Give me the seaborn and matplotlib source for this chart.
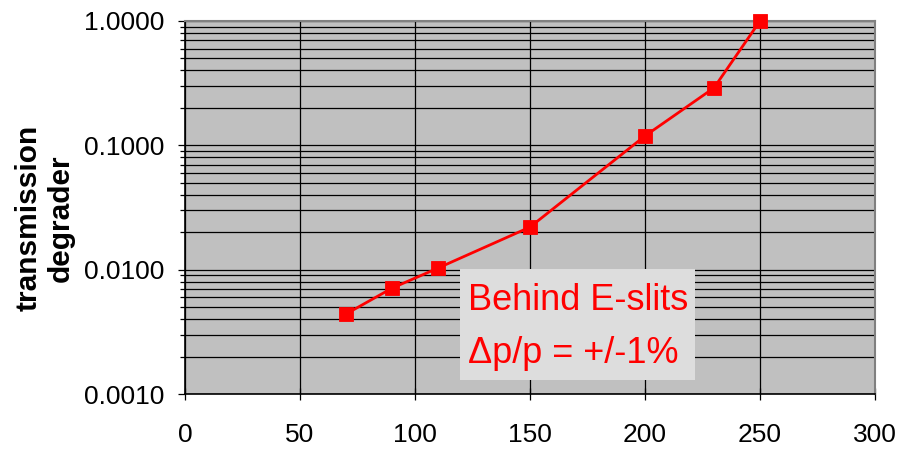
import matplotlib
matplotlib.use("Agg")
import matplotlib.pyplot as plt
import matplotlib.ticker as mticker
from matplotlib.patches import Rectangle
import seaborn as sns
import pandas as pd

energy = [70, 90, 110, 150, 200, 230, 250]
transmission = [0.0044, 0.0071, 0.0103, 0.022, 0.119, 0.29, 1.0]
x_ticks = [0, 50, 100, 150, 200, 250, 300]
y_ticks = [0.001, 0.01, 0.1, 1.0]
ylabel_text = "transmission\ndegrader"
note_text = "Behind E-slits\n\u0394p/p = +/-1%"

sns.set_theme(style="white")
plt.rcParams['font.family'] = ['Liberation Sans', 'DejaVu Sans']
plt.rcParams['text.color'] = 'black'
plt.rcParams['xtick.color'] = 'black'
plt.rcParams['ytick.color'] = 'black'

fig = plt.figure(figsize=(9, 4.54), dpi=100)
ax = fig.add_axes([185/900, 1-394/454, 690/900, 373/454])
ax.set_facecolor('#C0C0C0')

df = pd.DataFrame({"energy": energy, "transmission": transmission})
sns.lineplot(data=df, x="energy", y="transmission", ax=ax, color='#FF0000',
             linewidth=2.0, marker='s', markersize=10, markeredgecolor='#FF0000',
             markeredgewidth=0.6, zorder=5, clip_on=False)

ax.set_yscale('log')
ax.set_xlim(0, 300)
ax.set_ylim(0.001, 1.0)
ax.set_xticks(x_ticks)
ax.set_yticks(y_ticks)
ax.yaxis.set_major_formatter(mticker.FuncFormatter(lambda v, p: f"{v:.4f}"))
ax.yaxis.set_minor_locator(mticker.LogLocator(base=10, subs=range(2, 10)))
ax.yaxis.set_minor_formatter(mticker.NullFormatter())

ax.grid(True, which='major', axis='both', color='black', linewidth=0.9)
ax.grid(True, which='minor', axis='y', color='black', linewidth=0.9)
ax.set_axisbelow(True)

ax.tick_params(axis='y', which='major', direction='out', length=5, width=0.9,
               color='black', labelcolor='black', labelsize=19, pad=10, left=True)
ax.tick_params(axis='y', which='minor', direction='out', length=3.5, width=0.9,
               color='black', left=True)
ax.tick_params(axis='x', which='major', direction='inout', length=8, width=0.9,
               color='black', labelcolor='black', labelsize=19, pad=17, bottom=True)

for s in ['top', 'right']:
    ax.spines[s].set_color('#808080')
    ax.spines[s].set_linewidth(1.5)
for s in ['left', 'bottom']:
    ax.spines[s].set_color('black')
    ax.spines[s].set_linewidth(1.2)

ax.set_xlabel('')
ax.set_ylabel('')
fig.text(45/900, 1-218/454, ylabel_text, fontsize=21.5, fontweight='bold',
         color='black', rotation=90, ha='center', va='center', linespacing=1.2,
         multialignment='center')

ax.add_patch(Rectangle((0.399, 0.0375), 0.34, 0.2975, transform=ax.transAxes,
                       facecolor='#DDDDDD', edgecolor='none', zorder=6))
ax.text(0.41, 0.298, note_text, transform=ax.transAxes, color='#FF0000',
        fontsize=26, va='top', ha='left', linespacing=1.68, zorder=7)

fig.savefig('out.png', dpi=100)
